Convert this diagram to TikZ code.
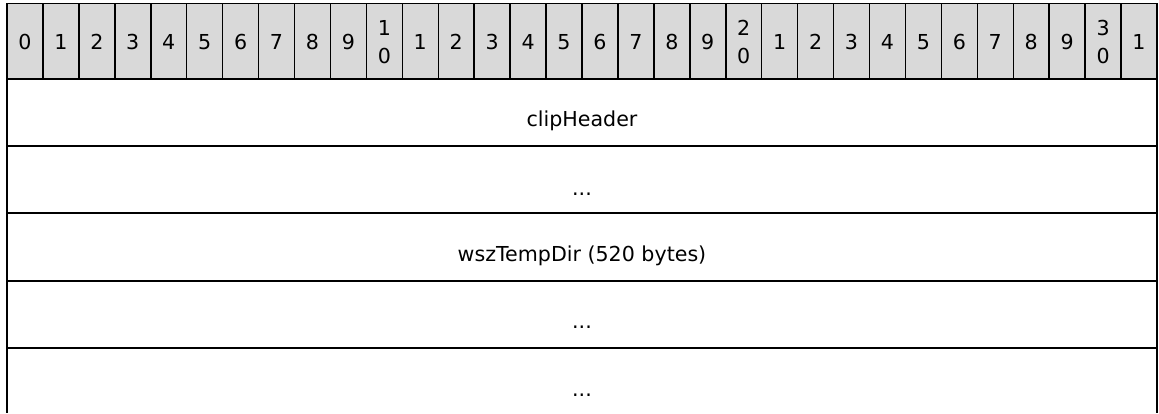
\documentclass[tikz,border=0pt]{standalone}
\usepackage{fontspec}
\setmainfont{DejaVu Sans}
\definecolor{hdrgray}{HTML}{D9D9D9}
\begin{document}
\begin{tikzpicture}[x=1pt, y=-1pt,
    bit/.style={anchor=base, align=center, font=\fontsize{20.6}{28}\selectfont},
    field/.style={anchor=base, font=\fontsize{20.6}{25}\selectfont}]
  \useasboundingbox (0,0) rectangle (1159,413);

  % header row
  \fill[hdrgray] (7,3) rectangle (1157,78);
  \draw[line width=1pt] (7,3.5) -- (1157,3.5);
  \foreach \i in {1,...,31} {
    \draw[line width=1.5pt] ({7+\i*35.9375},3) -- +(0,75);
  }

  % row lines and frame
  \foreach \y in {78.5,146,213,280.5,348} {
    \draw[line width=2pt] (7,\y) -- (1157,\y);
  }
  \draw[line width=2pt] (7,3) -- (7,413);
  \draw[line width=2pt] (1157,3) -- (1157,413);

  % bit numbers
  \foreach \i in {0,...,31} {
    \pgfmathtruncatemacro{\ones}{mod(\i,10)}
    \pgfmathtruncatemacro{\tens}{\i/10}
    \pgfmathtruncatemacro{\stack}{and(\ones==0,\i>0)}
    \ifnum\stack=1
      \node[bit] (bit\i) at ({7+(\i+0.5)*35.9375},63) {\tens\\\ones};
    \else
      \node[bit] (bit\i) at ({7+(\i+0.5)*35.9375},49) {\ones};
    \fi
  }

  \node[field] (clipHeader) at (582,126.7) {clipHeader};
  \node[field] (gapA) at (582,195) {...};
  \node[field] (tempDir) at (582,261.5) {wszTempDir (520 bytes)};
  \node[field] (gapB) at (582,328.5) {...};
  \node[field] (gapC) at (582,396) {...};
\end{tikzpicture}
\end{document}
